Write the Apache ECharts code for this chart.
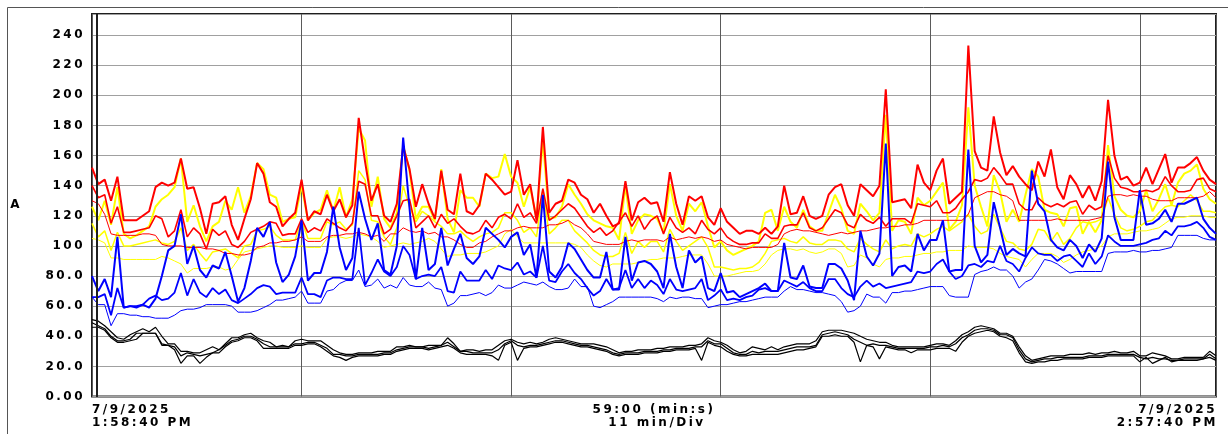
<!DOCTYPE html>
<html><head><meta charset="utf-8">
<script src="https://cdn.jsdelivr.net/npm/echarts@6/dist/echarts.min.js"></script>
<style>html,body{margin:0;padding:0;background:#fff}#c{width:1228px;height:434px}</style>
</head><body><div id="c"></div>
<script>
// sample spacing and time division (seconds)
const sampleSeconds = 20;
const divSeconds = 660;
const spanSeconds = 3540;
const yTickLabels = ['0.00','20.0','40.0','60.0','80.0','100','120','140','160','180','200','220','240'];
const yAxisName = 'A';
const startLabel = ['7/9/2025','1:58:40 PM'];
const centerLabel = ['59:00 (min:s)','11 min/Div'];
const endLabel = ['7/9/2025','2:57:40 PM'];

const redMax = [
152,141,144,130,146,117,117,117,120,123,139,142,140,142,158,138,139,125,108,128,129,133,114,
104,118,131,155,148,129,126,113,118,122,144,117,123,121,134,123,131,119,127,185,156,130,
141,120,116,128,166,151,126,141,128,118,150,124,121,148,123,121,127,148,144,139,134,136,
157,134,141,117,179,122,128,130,144,142,134,131,122,128,120,113,115,143,117,129,132,128,
129,116,149,128,114,133,130,133,119,114,125,116,112,108,110,110,108,112,108,113,140,121,
122,133,120,118,120,134,139,141,127,120,141,137,133,140,204,129,130,131,125,154,142,137,
150,158,128,132,136,233,163,152,150,186,162,147,153,146,141,137,156,146,164,139,131,147,
141,132,140,130,143,197,160,144,146,140,142,152,141,151,161,142,152,152,155,159,150,144,141];
const redAvg = [
140,132,134,115,126,109,109,110,111,112,120,118,106,110,124,106,112,108,98,111,107,110,101,
99,103,109,111,113,116,115,107,108,108,118,109,112,110,118,115,112,110,115,143,141,120,
120,108,111,120,130,131,112,116,120,112,121,115,118,113,109,108,110,117,112,119,121,118,
128,119,122,115,138,117,120,124,128,125,119,113,109,112,107,110,116,122,113,120,111,117,
120,108,119,112,109,112,108,117,111,108,112,106,103,101,101,102,102,108,105,105,113,114,
114,122,112,110,112,118,124,122,114,112,121,117,115,119,113,118,118,118,115,128,127,126,
130,122,122,125,131,136,144,143,145,152,147,141,141,128,124,124,132,128,126,128,126,129,
130,121,127,124,126,160,145,139,138,136,136,137,136,138,146,140,136,136,137,144,145,138,136];
const redMin = [
130,128,121,108,107,107,107,107,108,108,107,101,100,100,100,99,99,99,98,98,97,95,95,
94,94,95,99,100,102,102,103,103,104,106,103,103,103,106,107,107,108,108,109,108,106,
107,103,108,108,112,110,109,110,108,109,106,106,104,101,99,99,102,103,106,108,110,110,
112,113,112,112,112,114,114,115,117,114,112,108,103,102,101,101,101,103,104,103,104,104,
104,103,106,104,105,106,105,106,105,103,104,101,100,99,98,99,99,99,99,101,108,110,
111,110,110,109,108,107,108,109,108,109,110,110,111,112,112,113,113,114,114,115,117,117,
117,117,117,117,117,121,132,134,136,136,134,133,130,117,117,117,117,117,117,118,117,117,
117,117,117,118,119,133,134,134,133,134,133,133,131,130,130,130,132,132,132,132,133,136,132];

const yelMax = [
126,117,130,114,139,108,105,107,110,113,126,131,134,139,158,116,127,113,103,113,116,130,124,
139,122,133,155,151,134,132,116,118,119,140,117,122,124,137,123,139,119,131,178,170,126,
146,118,112,122,167,150,118,126,126,117,151,118,109,137,132,132,126,148,145,146,161,146,
142,126,139,118,170,118,119,126,141,134,128,121,117,115,113,112,104,140,108,117,121,120,
118,109,141,120,110,128,123,129,113,99,103,97,94,96,98,100,103,122,124,110,126,116,
112,124,113,110,110,122,134,125,110,108,128,123,117,122,187,110,117,116,108,132,127,130,
136,142,111,116,127,192,140,126,113,147,136,116,124,116,134,151,146,124,122,121,113,125,
126,108,116,109,117,167,133,124,120,119,123,137,123,131,141,127,142,148,150,154,138,131,128];
const yelAvg = [
115,106,110,97,109,100,100,101,102,103,104,102,101,103,112,97,101,95,90,96,97,98,95,
92,100,101,110,111,113,107,104,104,104,117,105,105,105,116,114,116,111,114,150,144,117,
116,106,101,112,140,126,116,123,120,116,113,108,108,110,106,103,106,108,109,112,122,122,
117,109,112,106,137,108,112,117,117,110,106,102,97,94,93,93,95,109,95,103,99,103,
103,96,111,103,97,100,103,106,99,86,86,85,84,85,85,86,89,95,103,104,105,103,
102,106,102,101,101,104,104,103,98,96,105,101,98,96,104,98,100,101,100,108,106,108,
111,113,110,113,116,121,113,108,110,121,112,103,102,98,97,101,111,110,103,109,101,105,
112,116,115,116,118,132,121,112,110,111,113,116,117,122,126,127,126,130,134,130,123,123,122];
const yelMin = [
105,104,102,92,92,91,91,91,91,91,91,93,92,90,88,82,85,85,85,86,86,84,85,
91,96,97,98,99,100,100,99,99,99,100,99,99,99,105,106,106,105,106,108,107,106,
103,99,100,101,102,101,102,103,105,103,98,93,94,94,95,95,95,96,98,100,108,111,
106,102,102,102,102,102,102,102,102,101,99,94,90,87,86,88,88,88,88,89,90,91,
91,92,92,92,93,94,94,94,88,80,80,80,81,82,83,83,84,88,94,97,98,98,
97,98,96,95,96,98,98,95,86,87,94,92,88,86,91,92,92,93,93,94,95,95,
96,96,97,97,97,100,99,99,99,98,95,93,92,91,86,91,95,95,95,93,89,91,
94,96,97,98,100,106,108,108,108,109,110,110,111,112,115,118,119,119,120,120,120,119,119];

const bluMax = [
80,70,78,66,106,59,60,59,61,59,65,80,97,100,121,88,100,84,79,87,85,96,80,
63,72,90,112,106,116,89,76,81,93,117,77,82,82,96,126,99,84,92,136,118,104,
115,84,81,100,172,125,78,112,84,88,112,87,98,108,92,88,93,112,108,104,99,106,
109,94,101,79,134,83,79,86,102,98,91,84,79,79,96,71,71,106,77,89,90,88,
83,72,108,86,72,97,89,93,72,70,82,69,70,66,68,70,72,75,70,70,102,79,
78,87,73,72,72,88,88,85,77,64,110,93,87,95,168,80,86,87,83,108,97,104,
104,117,83,84,84,164,100,89,94,129,112,94,98,95,93,150,128,123,104,99,97,104,
100,92,101,96,105,156,119,104,104,104,137,114,115,118,124,116,128,128,130,132,118,112,108];
const bluAvg = [
66,66,68,54,72,59,60,60,61,65,67,64,65,69,82,67,78,69,66,72,68,71,64,
62,65,68,72,74,73,68,69,69,69,79,68,68,66,77,79,79,78,78,112,74,82,
91,83,80,86,100,94,78,80,81,80,86,70,69,83,77,77,77,84,78,87,85,84,
89,81,83,79,100,77,76,83,88,82,78,72,67,70,78,71,72,84,72,78,72,77,
74,68,78,71,70,71,72,78,64,67,71,64,65,64,66,67,71,72,70,70,77,75,
73,76,72,70,70,78,78,72,68,66,73,77,73,75,72,73,74,75,76,83,82,83,
88,91,83,78,80,87,88,86,90,89,100,90,88,83,92,99,95,94,94,90,93,94,
90,86,95,88,93,107,103,100,100,100,101,102,104,105,110,107,113,113,114,116,112,106,104];
const bluMin = [
66,61,61,47,55,55,54,54,53,53,52,52,52,54,57,58,58,59,61,61,61,61,60,
56,56,56,57,59,61,64,64,65,66,70,62,62,62,70,71,75,77,77,84,73,74,
78,72,74,72,79,74,73,73,76,72,71,60,62,67,67,68,69,67,69,74,72,72,
74,76,75,74,76,73,71,71,72,78,73,73,60,59,61,63,66,66,66,66,66,66,
65,63,66,65,66,66,65,65,59,60,61,61,62,63,63,64,65,66,66,66,70,73,
71,71,70,69,69,68,67,63,56,57,60,68,66,66,62,69,69,70,70,71,72,73,
73,73,67,66,66,66,81,83,84,86,84,84,80,72,76,78,84,91,90,88,85,82,
83,83,83,83,83,95,96,96,96,97,96,96,97,97,98,99,107,107,107,107,105,104,104];

const blkA = [
51,50,47,43,39,38,41,43,45,43,46,40,35,35,30,30,29,29,31,33,31,35,39,
39,41,42,39,37,36,33,34,33,37,38,37,37,37,34,31,29,28,28,29,29,29,
30,30,30,33,33,34,33,33,34,34,34,39,35,30,31,31,30,31,31,34,37,38,
36,35,36,35,36,38,39,38,37,36,35,35,35,34,33,31,29,30,30,31,31,31,
32,32,33,33,33,34,34,35,39,37,36,34,31,29,30,33,32,31,33,31,33,34,
35,35,35,37,43,44,44,44,43,42,40,38,37,36,36,34,33,33,33,33,33,34,
35,35,34,37,41,43,46,47,46,45,42,42,40,33,27,24,25,26,27,27,27,28,
28,28,29,28,29,29,30,29,29,30,27,27,29,28,27,25,25,26,26,26,26,30,27];
const blkB = [
49,47,45,40,37,37,38,42,42,42,42,35,34,33,27,29,28,27,28,29,31,34,37,
38,40,40,38,35,33,33,33,33,35,35,36,36,34,32,28,28,27,27,28,28,28,
28,29,29,31,32,33,33,33,32,33,34,36,33,30,30,29,29,29,29,31,35,37,
34,33,34,34,35,36,37,37,36,35,34,34,33,32,31,29,28,29,29,29,30,30,
30,31,31,32,32,32,33,33,37,35,35,32,29,28,28,30,29,30,30,30,31,32,
33,33,33,34,41,42,43,42,41,38,36,34,35,34,34,33,32,32,32,32,32,33,
33,34,33,35,39,41,44,45,45,44,41,41,39,31,25,23,24,25,25,26,26,26,
26,26,27,27,27,28,28,28,28,28,26,25,26,25,25,24,24,25,25,25,25,28,25];
const blkC = [
46,46,44,39,36,36,37,38,42,42,42,34,34,31,22,27,27,22,26,29,29,33,36,
37,39,39,37,32,32,32,32,32,34,34,35,35,33,30,27,26,24,26,27,27,27,
27,28,28,30,31,32,32,32,31,32,33,34,32,29,28,28,28,28,27,24,34,36,
24,32,33,33,34,35,36,36,35,34,33,33,32,31,30,28,27,28,28,28,29,29,
29,30,30,31,31,31,32,24,36,34,33,30,28,27,27,28,28,28,28,28,29,30,
31,31,32,33,40,40,41,40,40,36,23,34,33,25,33,32,31,31,29,31,31,31,
32,32,32,30,36,40,42,43,44,43,40,39,37,29,23,22,23,23,24,24,25,25,
25,25,26,26,26,27,27,27,27,27,23,26,22,24,26,23,24,24,24,24,25,26,24];

// wider tracking for the instrument-style lettering
(function(){
  const P = CanvasRenderingContext2D.prototype;
  const f = P.fillText;
  P.fillText = function(){ try { this.letterSpacing = '2.5px'; } catch(e){} return f.apply(this, arguments); };
})();

const FONT = 'bold 12px "DejaVu Sans"';
function mk(name, arr, color, width, z){
  return {
    name: name, type: 'line', z: z, silent: true, symbol: 'none', showSymbol: false,
    animation: false,
    lineStyle: {color: color, width: width},
    itemStyle: {color: color},
    data: arr.map(function(v, i){ return [i * sampleSeconds, v]; })
  };
}

const chart = echarts.init(document.getElementById('c'));
chart.setOption({
  animation: false,
  backgroundColor: '#fff',
  grid: {left: 92, right: 12, top: 14, bottom: 37.5, show: true, borderColor: '#1e1e1e', borderWidth: 2, backgroundColor: 'transparent'},
  xAxis: {
    type: 'value', min: 0, max: spanSeconds, interval: divSeconds,
    axisLine: {show: false}, axisTick: {show: false}, axisLabel: {show: false},
    splitLine: {show: true, lineStyle: {color: '#5a5a5a', width: 1}}
  },
  yAxis: {
    type: 'value', min: 0, max: 254, interval: 20,
    name: yAxisName, nameLocation: 'middle', nameGap: 70, nameRotate: 0,
    nameTextStyle: {color: '#000', fontFamily: 'DejaVu Sans', fontSize: 12, fontWeight: 'bold'},
    axisLine: {show: false}, axisTick: {show: false},
    axisLabel: {
      margin: 7, color: '#000', fontFamily: 'DejaVu Sans', fontSize: 12, fontWeight: 'bold',
      formatter: function(v){ const k = Math.round(v / 20); return (Math.abs(v - k * 20) < 1e-6 && yTickLabels[k]) ? yTickLabels[k] : ''; }
    },
    splitLine: {show: true, lineStyle: {color: '#a0a0a0', width: 1}}
  },
  series: [
    mk('yelMin', yelMin, '#ffff00', 1, 2),
    mk('yelAvg', yelAvg, '#ffff00', 1.5, 2),
    mk('yelMax', yelMax, '#ffff00', 2, 2),
    mk('redMin', redMin, '#ff0000', 1, 3),
    mk('redAvg', redAvg, '#ff0000', 1.6, 3),
    mk('redMax', redMax, '#ff0000', 2, 3),
    mk('bluMin', bluMin, '#0000ff', 1, 4),
    mk('bluAvg', bluAvg, '#0000ff', 1.8, 4),
    mk('bluMax', bluMax, '#0000ff', 2, 4),
    mk('blkA', blkA, '#000000', 1.2, 5),
    mk('blkB', blkB, '#000000', 1.2, 5),
    mk('blkC', blkC, '#000000', 1.2, 5)
  ],
  graphic: [
    {type: 'rect', silent: true, z: -10, shape: {x: 7.5, y: 7.5, width: 1240, height: 440}, style: {fill: 'none', stroke: '#555', lineWidth: 1}},
    {type: 'line', silent: true, z: 10, shape: {x1: 97, y1: 14, x2: 97, y2: 397}, style: {stroke: '#1e1e1e', lineWidth: 2}},
    {type: 'text', silent: true, x: 92, y: 410, style: {text: startLabel[0], font: FONT, fill: '#000', textAlign: 'left', textVerticalAlign: 'middle', align: 'left', verticalAlign: 'middle'}},
    {type: 'text', silent: true, x: 92, y: 423, style: {text: startLabel[1], font: FONT, fill: '#000', textAlign: 'left', textVerticalAlign: 'middle', align: 'left', verticalAlign: 'middle'}},
    {type: 'text', silent: true, x: 654, y: 410, style: {text: centerLabel[0], font: FONT, fill: '#000', textAlign: 'center', textVerticalAlign: 'middle', align: 'center', verticalAlign: 'middle'}},
    {type: 'text', silent: true, x: 657, y: 423, style: {text: centerLabel[1], font: FONT, fill: '#000', textAlign: 'center', textVerticalAlign: 'middle', align: 'center', verticalAlign: 'middle'}},
    {type: 'text', silent: true, x: 1217, y: 410, style: {text: endLabel[0], font: FONT, fill: '#000', textAlign: 'right', textVerticalAlign: 'middle', align: 'right', verticalAlign: 'middle'}},
    {type: 'text', silent: true, x: 1218, y: 423, style: {text: endLabel[1], font: FONT, fill: '#000', textAlign: 'right', textVerticalAlign: 'middle', align: 'right', verticalAlign: 'middle'}}
  ]
});
</script>
</body></html>
